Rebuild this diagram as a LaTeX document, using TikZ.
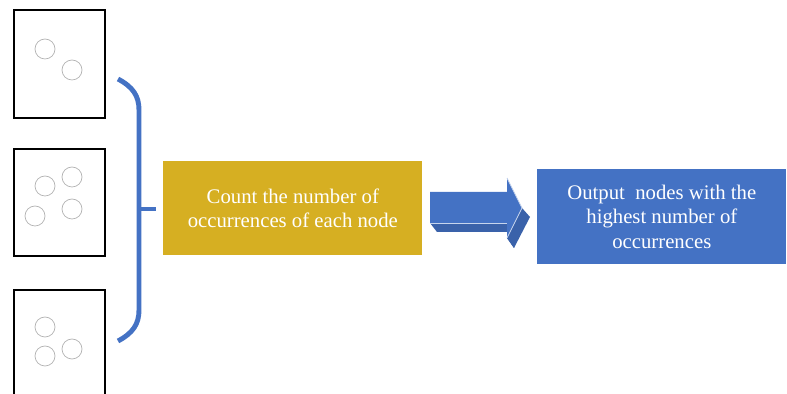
\documentclass[tikz,border=0pt]{standalone}
\usepackage{fontspec}
\setmainfont{Liberation Serif}
\usepackage{tikz}
\usetikzlibrary{calc}
\usepackage{xcolor}
\definecolor{bblue}{HTML}{4472C4}
\definecolor{bblueDark}{HTML}{3A62AA}
\definecolor{bgold}{HTML}{D6AF22}

\begin{document}
\begin{tikzpicture}[x=0.02cm,y=-0.02cm,
  frame/.style={draw=black,line width=1.2pt},
  occ/.style={circle,draw=gray!60,line width=0.4pt,minimum size=0.4cm,inner sep=0pt},
  block/.style={fill=#1,text=white,align=center,inner sep=0pt,
    font=\fontsize{11.8}{14}\selectfont},
  brace/.style={draw=bblue,line width=2.8pt}
  ]
\useasboundingbox (0,0) rectangle (787,394);
% the three sample graphs
\draw[frame] (14,10) rectangle (105,118);
\draw[frame] (14,149) rectangle (105,256);
\draw[frame] (14,290) rectangle (105,400);
\node[occ] (a1) at (45,49){};
\node[occ] (a2) at (72,70){};
\node[occ] (b1) at (45,186){};
\node[occ] (b2) at (72,177){};
\node[occ] (b3) at (35,216){};
\node[occ] (b4) at (72,209){};
\node[occ] (c1) at (45,327){};
\node[occ] (c2) at (45,356){};
\node[occ] (c3) at (72,349){};
% brace
\draw[brace] (118,79) .. controls (133,87) and (139,96) .. (139,110)
  -- (139,310) .. controls (139,324) and (133,333) .. (118,341);
\draw[brace] (139,209) -- (156,209);
% blocks
\node[block=bgold,minimum width=5.18cm,minimum height=1.88cm,anchor=north west]
  (count) at (163,161) {Count the number of\\occurrences of each node};
\node[block=bblue,minimum width=4.98cm,minimum height=1.9cm,anchor=north west]
  (out) at (537,169) {Output\ \ nodes with the\\highest number of\\occurrences};
% 3d arrow
\fill[bblueDark] (430,223) -- (437,232) -- (514,232) -- (514,248) -- (507,238)
  -- (507,223) -- cycle;
\fill[bblueDark] (507,238) -- (514,248) -- (530,217) -- (522,208) -- cycle;
\fill[bblue] (430,192) -- (507,192) -- (507,178) -- (522,208) -- (507,238)
  -- (507,223) -- (430,223) -- cycle;
\draw[white!70!bblue,line width=0.4pt] (507,178) -- (522,208) -- (507,238);
\draw[white!70!bblue,line width=0.4pt] (430,223) -- (507,223);
\end{tikzpicture}
\end{document}
